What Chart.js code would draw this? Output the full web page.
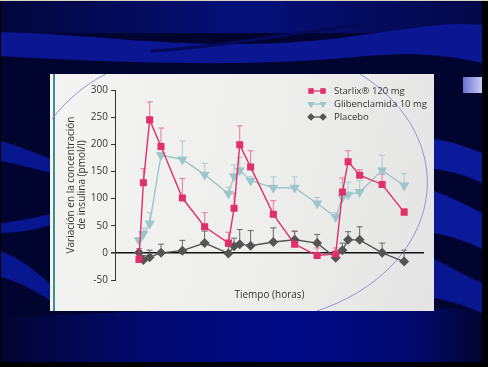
<!DOCTYPE html>
<html>
<head>
<meta charset="utf-8">
<script src="https://cdn.jsdelivr.net/npm/chart.js@4.4.1/dist/chart.umd.min.js"></script>
<style>
  html, body { margin: 0; padding: 0; }
  body { width: 488px; height: 367px; background: #000; position: relative; overflow: hidden; border-top: 1px solid #d8d4c0; box-sizing: border-box; }
  #slide { position: absolute; left: 1px; top: 0; width: 481px; height: 361px; background: #020430; overflow: hidden; }
  #slide svg { position: absolute; left: 0; top: 0; }
  #panel { position: absolute; left: 50px; top: 73px; width: 384px; height: 237px;
           background: linear-gradient(100deg, #f4f4f2 0%, #eeeeec 55%, #e4e4e4 100%); }
  #panel .edge { position: absolute; left: 3px; top: 0; width: 2px; height: 237px; background: #3f8f92; }
  #panel svg { position: absolute; left: 0; top: 0; }
  #chartBox { position: absolute; left: 0; top: 0; width: 384px; height: 237px; }
  #tab { position: absolute; left: 462px; top: 76px; width: 19px; height: 16px;
         background: linear-gradient(90deg, #6a72d4, #c8ccf4); }
</style>
</head>
<body>
<div id="slide">
  <svg width="481" height="361" viewBox="0 0 481 361">
    <defs>
      <linearGradient id="topg" x1="0" x2="1" y1="0" y2="0">
        <stop offset="0" stop-color="#02063a"/>
        <stop offset="0.5" stop-color="#06107a"/>
        <stop offset="1" stop-color="#030848"/>
      </linearGradient>
      <linearGradient id="botg" x1="0" x2="1" y1="0" y2="0">
        <stop offset="0" stop-color="#020430"/>
        <stop offset="0.3" stop-color="#030a70"/>
        <stop offset="0.6" stop-color="#010a88"/>
        <stop offset="0.85" stop-color="#030a70"/>
        <stop offset="1" stop-color="#020430"/>
      </linearGradient>
    </defs>
    <rect x="0" y="0" width="481" height="32" fill="url(#topg)"/>
    <path d="M0,31 C100,33 200,52 330,38 C400,30 440,20 481,24 L481,62 C420,48 380,54 330,58 C250,64 150,64 0,55 Z" fill="#0a1692"/>
    <path d="M150,50 C230,45 300,30 360,24" stroke="#040a58" stroke-width="3" fill="none"/>
    <path d="M0,318 C80,312 200,306 481,308 L481,361 L0,361 Z" fill="url(#botg)"/>
    <path d="M433,138 C450,140 465,146 481,152 L481,182 C465,174 450,170 433,168 Z" fill="#0a1a9a"/>
    <path d="M433,190 C450,196 465,204 481,212 L481,248 C465,240 450,235 433,232 Z" fill="#0a1a9a"/>
    <path d="M433,258 C450,266 465,275 481,282 L481,312 C465,305 450,300 433,297 Z" fill="#081690"/>
    <path d="M0,140 C20,146 35,152 50,158 L50,172 C35,168 20,164 0,160 Z" fill="#081690"/>
    <path d="M0,222 C20,220 35,216 50,213 L50,224 C35,228 20,232 0,232 Z" fill="#081690"/>
    <path d="M0,250 C20,258 35,270 50,284 L50,300 C35,290 20,282 0,276 Z" fill="#081690"/>
  </svg>
  <div id="tab"></div>
</div>
<div id="panel">
  <div class="edge"></div>
  <svg width="384" height="237" viewBox="0 0 384 237">
    <path d="M310,0 A183,140 0 0 1 267,237" stroke="#8c88dc" stroke-width="0.9" fill="none"/>
    <path d="M2,45 C15,28 35,10 56,0" stroke="#8c88dc" stroke-width="0.9" fill="none"/>
  </svg>
  <div id="chartBox"><canvas id="graphic" width="384" height="237"></canvas></div>
</div>
<script>
var horas = [0, 0.2, 0.49, 1.01, 1.99, 3.01, 4.1, 4.36, 4.62, 5.12, 6.16, 7.14, 8.17, 9.02, 9.33, 9.59, 10.12, 11.15, 12.16];

var starlix      = [-12, 129, 245, 196, 101, 48, 18, 82, 199, 158, 71, 16, -5, -2, 112, 168, 143, 126, 75];
var starlixError = [8, 155, 278, 230, 137, 74, 38, 110, 234, 188, 96, 40, 9, 9, 138, 188, 153, 145, 81];

var gliben      = [23, 35, 54, 180, 172, 144, 109, 141, 152, 133, 120, 120, 91, 66, 102, 107, 112, 152, 124];
var glibenError = [28, 46, 74, 185, 206, 165, 121, 162, 176, 140, 140, 140, 102, 74, 129, 130, 133, 180, 146];

var placebo      = [0, -13, -8, 0, 4, 18, -1, 12, 16, 13, 20, 24, 18, -9, 5, 24, 24, 0, -16];
var placeboError = [4, -5, 5, 16, 23, 40, 12, 27, 43, 41, 46, 40, 34, -2, 18, 39, 48, 18, 5];

var yTicks = [-50, 0, 50, 100, 150, 200, 250, 300];

var seriesNames = ['Starlix\u00AE 120 mg', 'Glibenclamida 10 mg', 'Placebo'];

function toPoints(values) {
    return values.map(function (v, i) { return { x: horas[i], y: v }; });
}

// error bars: vertical line from the point up to the upper value, with a small cap
var errorBars = {
    id: 'errorBars',
    beforeDatasetsDraw: function (chart) {
        var ctx = chart.ctx;
        var yScale = chart.scales.y;
        chart.data.datasets.forEach(function (ds, i) {
            var meta = chart.getDatasetMeta(i);
            ctx.save();
            ctx.strokeStyle = ds.errorColor;
            ctx.lineWidth = 1;
            meta.data.forEach(function (pt, j) {
                var top = yScale.getPixelForValue(ds.errorTop[j]);
                if (top >= pt.y) return;
                ctx.beginPath();
                ctx.moveTo(pt.x, pt.y);
                ctx.lineTo(pt.x, top);
                ctx.moveTo(pt.x - 3, top);
                ctx.lineTo(pt.x + 3, top);
                ctx.stroke();
            });
            ctx.restore();
        });
    }
};

// legend in the upper right corner: short line with two markers, then the name
var lineLegend = {
    id: 'lineLegend',
    afterDraw: function (chart) {
        var ctx = chart.ctx;
        ctx.save();
        chart.data.datasets.forEach(function (ds, i) {
            var y = 17 + i * 13;
            ctx.strokeStyle = ds.borderColor;
            ctx.lineWidth = 1.2;
            ctx.beginPath();
            ctx.moveTo(260, y);
            ctx.lineTo(274, y);
            ctx.stroke();
            var opts = { pointStyle: ds.pointStyle, rotation: ds.rotation || 0, radius: 3, borderWidth: 1 };
            ctx.fillStyle = ds.pointBackgroundColor;
            ctx.strokeStyle = ds.borderColor;
            Chart.helpers.drawPoint(ctx, opts, 261, y);
            Chart.helpers.drawPoint(ctx, opts, 273, y);
            ctx.fillStyle = '#333';
            ctx.font = '9.5px "Open Sans"';
            ctx.textBaseline = 'middle';
            ctx.fillText(ds.label, 284, y);
        });
        ctx.restore();
    }
};

var ctx = document.getElementById('graphic').getContext('2d');

var insulinData = {
    datasets: [{
        label: seriesNames[0],
        data: toPoints(starlix),
        errorTop: starlixError,
        errorColor: '#e8769a',
        borderColor: '#e0306a',
        backgroundColor: '#e0306a',
        pointBackgroundColor: '#e0306a',
        pointBorderColor: '#e0306a',
        pointStyle: 'rect',
        pointRadius: 4,
        borderWidth: 1.4
    }, {
        label: seriesNames[1],
        data: toPoints(gliben),
        errorTop: glibenError,
        errorColor: '#a9cdd0',
        borderColor: '#9cc6ca',
        backgroundColor: '#9cc6ca',
        pointBackgroundColor: '#9cc6ca',
        pointBorderColor: '#9cc6ca',
        pointStyle: 'triangle',
        rotation: 180,
        pointRotation: 180,
        pointRadius: 4.5,
        borderWidth: 1.4
    }, {
        label: seriesNames[2],
        data: toPoints(placebo),
        errorTop: placeboError,
        errorColor: '#666',
        borderColor: '#555',
        backgroundColor: '#555',
        pointBackgroundColor: '#555',
        pointBorderColor: '#555',
        pointStyle: 'rectRot',
        pointRadius: 4,
        borderWidth: 1.4
    }]
};

var insulinOptions = {
    responsive: false,
    animation: false,
    layout: { padding: { top: 16, right: 10, left: 0, bottom: 0 } },
    plugins: { legend: { display: false }, tooltip: { enabled: false } },
    scales: {
        x: {
            type: 'linear',
            min: -1.1,
            max: 13.07,
            ticks: { display: false },
            grid: { display: false },
            border: { display: false },
            title: {
                display: true,
                text: 'Tiempo (horas)',
                color: '#333',
                font: { family: 'Open Sans', size: 10 },
                padding: { top: 0, bottom: 10 }
            },
            afterFit: function (scale) { scale.height = 31; }
        },
        y: {
            min: -50,
            max: 300,
            afterBuildTicks: function (scale) {
                scale.ticks = yTicks.map(function (v) { return { value: v }; });
            },
            ticks: {
                color: '#333',
                padding: 3,
                font: { family: 'Open Sans', size: 10 }
            },
            grid: {
                drawOnChartArea: true,
                tickLength: 4,
                tickColor: '#333',
                color: function (c) { return c.tick && c.tick.value === 0 ? '#111' : 'transparent'; },
                lineWidth: function (c) { return c.tick && c.tick.value === 0 ? 1.6 : 1; }
            },
            border: { color: '#333', width: 1 },
            title: {
                display: true,
                text: ['Variación en la concentración', 'de insulina (pmol/l)'],
                color: '#333',
                font: { family: 'Open Sans', size: 10, lineHeight: 1.1 },
                padding: { top: 16, bottom: 0 }
            },
            afterFit: function (scale) { scale.width = 65; }
        }
    }
};

var graphic = new Chart(ctx, {
    type: 'line',
    data: insulinData,
    options: insulinOptions,
    plugins: [errorBars, lineLegend]
});
</script>
</body>
</html>
